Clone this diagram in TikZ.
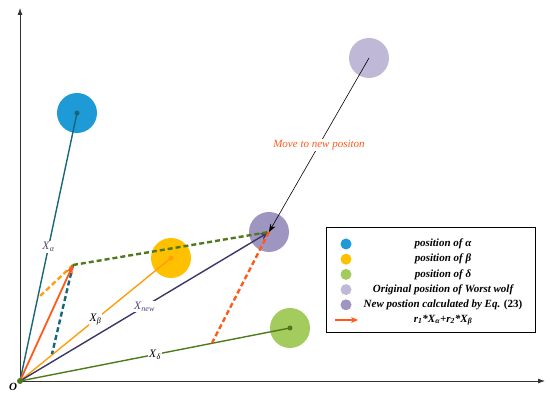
\documentclass[tikz,border=0pt]{standalone}
\usepackage{fontspec}
\setmainfont{Liberation Serif}
\usetikzlibrary{arrows.meta}
\definecolor{cAlpha}{HTML}{1E9AD6}
\definecolor{cBeta}{HTML}{FFC000}
\definecolor{cDelta}{HTML}{A3CB5E}
\definecolor{cWorst}{HTML}{BFB8D6}
\definecolor{cNew}{HTML}{9E95C0}
\definecolor{cTeal}{HTML}{18667B}
\definecolor{cOrange}{HTML}{FF9E0C}
\definecolor{cPurple}{HTML}{3C3568}
\definecolor{cGreen}{HTML}{4F7A1C}
\definecolor{cRed}{HTML}{FF5A1A}
\definecolor{cLbl}{HTML}{4B4676}
\definecolor{cInk}{HTML}{333333}
\newcommand{\Xsub}[1]{\textit{X}\textsubscript{\textit{#1}}}
\tikzset{
  wolf/.style={circle, fill=#1, draw=none, minimum size=40pt, inner sep=0pt},
  dot/.style={circle, fill=#1, draw=none, minimum size=5pt, inner sep=0pt},
  vec/.style={line width=1.4pt, draw=#1},
  dsh/.style={line width=2.4pt, draw=#1, dash pattern=on 5pt off 3pt},
  lbl/.style={fill=white, inner sep=1pt, font=\fontsize{11.5}{12}\selectfont},
  key/.style={circle, fill=#1, draw=none, minimum size=11pt, inner sep=0pt},
  keytxt/.style={font=\bfseries\itshape\fontsize{11}{12}\selectfont},
  axis/.style={-{Latex[length=7pt,width=5pt]}, line width=0.8pt, draw=cInk},
}
\begin{document}
\begin{tikzpicture}[x=1pt, y=-1pt]
\useasboundingbox (0,0) rectangle (550,395);
% axes
\coordinate (O) at (20,381);
\coordinate (ytip) at (20,8);
\coordinate (xtip) at (545,381);
\draw[axis] (O) -- (ytip);
\draw[axis] (O) -- (xtip);
\node[font=\bfseries\itshape\fontsize{11}{12}\selectfont] (lo) at (13,387) {O};
% wolves
\node[wolf=cAlpha] (alpha) at (77,113) {};
\node[wolf=cBeta] (beta) at (171,258) {};
\node[wolf=cDelta] (delta) at (290,328) {};
\node[wolf=cWorst] (worst) at (369,58) {};
\node[wolf=cNew] (new) at (269,232) {};
% vectors
\draw[vec=cTeal] (O) -- (alpha.center) node[lbl, text=cLbl, pos=0.5] (la) {\Xsub{α}};
\draw[vec=cOrange] (O) -- (beta.center) node[lbl, pos=0.5] (lb) {\Xsub{β}};
\draw[vec=cGreen] (O) -- (delta.center) node[lbl, pos=0.5] (ld) {\Xsub{δ}};
\draw[vec=cPurple, -{Stealth[length=9pt,width=7pt]}] (O) -- (new.center) node[lbl, text=cLbl, pos=0.5] (ln) {\Xsub{new}};
% construction
\coordinate (P) at (73,265);
\coordinate (Pa) at (38,298);
\coordinate (Pb) at (52,354);
\coordinate (Pd) at (212,343);
\draw[dsh=cOrange] (P) -- (Pa);
\draw[dsh=cTeal] (P) -- (Pb);
\draw[dsh=cGreen] (P) -- (new.center);
\draw[dsh=cRed] (new.center) -- (Pd);
\draw[vec=cRed, line width=1.8pt, -{Stealth[length=9pt,width=7pt]}] (O) -- (P);
\draw[-{Stealth[length=8pt,width=6pt]}, line width=0.6pt] (worst.center) -- (new.center)
  node[pos=0.5, fill=white, inner sep=1pt, text=cRed, font=\itshape\fontsize{11}{12}\selectfont] (mv) {Move to new positon};
\node[dot=cTeal] (da) at (alpha.center) {};
\node[dot=cOrange] (db) at (beta.center) {};
\node[dot=cGreen] (dd) at (delta.center) {};
\node[dot=cGreen, minimum size=6pt] (dO) at (O) {};
% legend
\node[draw, line width=0.8pt, minimum width=209pt, minimum height=105pt, anchor=north west, inner sep=0pt] (leg) at (326,227) {};
\foreach \c/\t [count=\i] in {cAlpha/{position of α}, cBeta/{position of β}, cDelta/{position of δ}, cWorst/{Original position of Worst wolf}, cNew/{New postion calculated by Eq. \textup{(23)}}}{
  \node[key=\c] (k\i) at (346,{244+15.2*(\i-1)}) {};
  \node[keytxt] (t\i) at (443,{244+15.2*(\i-1)}) {\t};
}
\coordinate (ka) at (335,320);
\coordinate (kb) at (358,320);
\draw[vec=cRed, line width=1.6pt, -{Stealth[length=7pt,width=6pt]}] (ka) -- (kb);
\node[keytxt] (t6) at (443,320) {\textit{r}\textsubscript{1}*\Xsub{α}+\textit{r}\textsubscript{2}*\Xsub{β}};
\end{tikzpicture}
\end{document}
